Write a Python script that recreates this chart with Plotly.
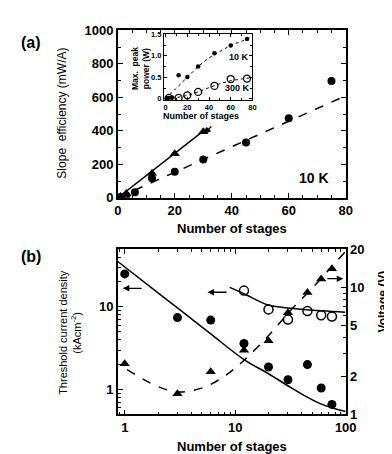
import math
import plotly.graph_objects as go

W, H = 392, 454
def px(x): return x / W
def py(y): return 1 - y / H

FONT = "Liberation Sans, Arial, sans-serif"

# ---------------- Panel (a) data ----------------
stages_circ = [1, 3, 6, 12, 20, 30, 45, 60, 75]
slope_circ = [5, 12, 33, 117, 156, 228, 331, 476, 698]
stages_tri = [1, 3, 12, 20, 30]
slope_tri = [8, 25, 146, 263, 395]
fit_solid_x = [0, 31]
fit_solid_y = [0, 412]
fit_dash_x = [0, 80]
fit_dash_y = [0, 610]

# ---------------- Inset data ----------------
inset_stages_10k = [1, 3, 6, 12, 20, 30, 45, 60, 75]
power_10k = [0.01, 0.02, 0.03, 0.55, 0.51, 0.75, 1.06, 1.24, 1.39]
inset_stages_300k = [3, 12, 20, 30, 45, 60, 75]
power_300k = [0.02, 0.02, 0.08, 0.16, 0.30, 0.46, 0.47]
curve_x = [0, 10, 20, 30, 40, 50, 60, 70, 78]
curve_10k = [0, 0.25, 0.5, 0.75, 0.95, 1.1, 1.24, 1.34, 1.42]
curve_300k = [0, 0.03, 0.08, 0.16, 0.26, 0.35, 0.42, 0.46, 0.49]

# ---------------- Panel (b) data ----------------
stages_b = [1, 3, 6, 12, 20, 30, 45, 60, 75]
jth_10k = [25, 7.4, 6.9, 3.6, 1.87, 1.31, 2.0, 1.04, 0.66]
stages_open = [12, 20, 30, 45, 60, 75]
jth_open = [15.7, 9.3, 7.0, 8.9, 7.9, 7.65]
voltage = [2.5, 1.45, 2.16, 3.19, 3.8, 6.3, 9.1, 11.6, 14.0]

jfit_x = [0.865, 2, 3, 6, 12, 20, 32, 40, 58, 75, 100]
jfit_y = [35.3, 14.7, 9.7, 4.7, 2.3, 1.55, 1.05, 0.88, 0.68, 0.6, 0.54]
ofit_x = [8.9, 12, 20, 31.8, 44.4, 99]
ofit_y = [17.2, 14.4, 10.5, 9.6, 9.2, 8.6]
vfit_x = [1.05, 1.92, 3.07, 5.2, 8, 12.1, 20.6, 31.8, 50.7, 70.8, 99]
vfit_y = [2.25, 1.68, 1.5, 1.63, 2.0, 2.68, 4.28, 6.6, 10, 13.8, 19]

fig = go.Figure()

# Panel (a)
fig.add_trace(go.Scatter(x=fit_solid_x, y=fit_solid_y, mode="lines",
                         line=dict(color="black", width=1.5), xaxis="x", yaxis="y"))
fig.add_trace(go.Scatter(x=fit_dash_x, y=fit_dash_y, mode="lines",
                         line=dict(color="black", width=1.5, dash="dash"), xaxis="x", yaxis="y"))
fig.add_trace(go.Scatter(x=stages_circ, y=slope_circ, mode="markers",
                         marker=dict(symbol="circle", size=8, color="black"), xaxis="x", yaxis="y"))
fig.add_trace(go.Scatter(x=stages_tri, y=slope_tri, mode="markers",
                         marker=dict(symbol="triangle-up", size=9, color="black"), xaxis="x", yaxis="y"))

# Inset
fig.add_trace(go.Scatter(x=curve_x, y=curve_10k, mode="lines", line_shape="spline",
                         line=dict(color="black", width=1, dash="dot"), xaxis="x2", yaxis="y2"))
fig.add_trace(go.Scatter(x=curve_x, y=curve_300k, mode="lines", line_shape="spline",
                         line=dict(color="black", width=1, dash="dot"), xaxis="x2", yaxis="y2"))
fig.add_trace(go.Scatter(x=inset_stages_10k, y=power_10k, mode="markers",
                         marker=dict(symbol="circle", size=4.5, color="black"), xaxis="x2", yaxis="y2"))
fig.add_trace(go.Scatter(x=inset_stages_300k, y=power_300k, mode="markers",
                         marker=dict(symbol="circle-open", size=7, color="black", line=dict(width=1.3)),
                         xaxis="x2", yaxis="y2"))

# Panel (b)
fig.add_trace(go.Scatter(x=jfit_x, y=jfit_y, mode="lines", line_shape="spline",
                         line=dict(color="black", width=1.5), xaxis="x3", yaxis="y3"))
fig.add_trace(go.Scatter(x=ofit_x, y=ofit_y, mode="lines", line_shape="spline",
                         line=dict(color="black", width=1.5), xaxis="x3", yaxis="y3"))
fig.add_trace(go.Scatter(x=stages_b, y=jth_10k, mode="markers",
                         marker=dict(symbol="circle", size=9, color="black"), xaxis="x3", yaxis="y3"))
fig.add_trace(go.Scatter(x=stages_open, y=jth_open, mode="markers",
                         marker=dict(symbol="circle-open", size=9, color="black", line=dict(width=1.5)),
                         xaxis="x3", yaxis="y3"))
fig.add_trace(go.Scatter(x=vfit_x, y=vfit_y, mode="lines", line_shape="spline",
                         line=dict(color="black", width=1.5, dash="dash"), xaxis="x3", yaxis="y4"))
fig.add_trace(go.Scatter(x=stages_b, y=voltage, mode="markers",
                         marker=dict(symbol="triangle-up", size=9, color="black"), xaxis="x3", yaxis="y4"))

axis_common = dict(showline=True, linecolor="black", linewidth=1.5, ticks="inside",
                   tickcolor="black", showgrid=False, zeroline=False,
                   tickfont=dict(family=FONT, size=13, color="black", weight="bold"))

fig.update_layout(
    width=W, height=H, margin=dict(l=0, r=0, t=0, b=0),
    paper_bgcolor="white", plot_bgcolor="white", showlegend=False,
    xaxis=dict(axis_common, domain=[px(110), px(347)], range=[0, 80], anchor="y",
               dtick=20, ticklen=5, mirror="ticks",
               minor=dict(ticks="inside", dtick=5, ticklen=3, tickcolor="black")),
    yaxis=dict(axis_common, domain=[py(189), py(16)], range=[0, 1000], anchor="x",
               dtick=200, ticklen=5, mirror="ticks",
               minor=dict(ticks="inside", dtick=100, ticklen=3, tickcolor="black")),
    xaxis2=dict(axis_common, domain=[px(158), px(250)], range=[-1.5, 80], anchor="y2",
                dtick=20, ticklen=3, linewidth=1, mirror="ticks",
                tickfont=dict(family=FONT, size=7.5, color="black", weight="bold"),
                minor=dict(ticks="inside", dtick=10, ticklen=2, tickcolor="black")),
    yaxis2=dict(axis_common, domain=[py(88), py(20)], range=[-0.03, 1.5], anchor="x2",
                tickvals=[0, 0.5, 1.0, 1.5], ticktext=["0", "0.5", "1.0", "1.5"],
                ticklen=3, linewidth=1, mirror="ticks",
                tickfont=dict(family=FONT, size=7.5, color="black", weight="bold"),
                minor=dict(ticks="inside", dtick=0.25, ticklen=2, tickcolor="black")),
    xaxis3=dict(axis_common, type="log", domain=[px(110), px(347)],
                range=[math.log10(0.865), 2], anchor="y3",
                tickvals=[1, 10, 100], ticktext=["1", "10", "100"], ticklen=5, mirror="ticks",
                minor=dict(ticks="inside", dtick="D1", ticklen=3, tickcolor="black")),
    yaxis3=dict(axis_common, type="log", domain=[py(413), py(242)],
                range=[math.log10(0.5), math.log10(50)], anchor="x3",
                tickvals=[1, 10], ticktext=["1", "10"], ticklen=5,
                minor=dict(ticks="inside", dtick="D1", ticklen=3, tickcolor="black")),
    yaxis4=dict(axis_common, type="log", overlaying="y3", side="right", anchor="x3",
                range=[0, math.log10(20)],
                tickvals=[1, 2, 5, 10, 20], ticktext=["1", "2", "5", "10", "20"], ticklen=5,
                minor=dict(ticks="inside", dtick="D1", ticklen=3, tickcolor="black")),
)

def txt(x, y, s, size, bold=True, angle=0, xanchor="center"):
    return dict(x=px(x), y=py(y), xref="paper", yref="paper", text=s, showarrow=False,
                textangle=angle, xanchor=xanchor, yanchor="middle",
                font=dict(family=FONT, size=size, color="black", weight="bold" if bold else "normal"))

ann = [
    txt(20, 28, "(a)", 16),
    txt(20, 250, "(b)", 16),
    txt(229, 221, "Number of stages", 13),
    txt(229, 446, "Number of stages", 13),
    txt(52, 102, "Slope  efficiency (mW/A)", 12, bold=False, angle=-90),
    txt(60, 328, "Threshold current density<br>(kAcm<sup>-2</sup>)", 11, bold=False, angle=-90),
    txt(386, 296, "Voltage (V)", 12, angle=-90),
    txt(314, 169, "10 K", 14),
    txt(196, 104, "Number of stages", 9),
    txt(133, 55, "Max.  peak<br>power (W)", 8.5, angle=-90),
    txt(236, 43, "10 K", 9),
    txt(234, 76, "300 K", 9),
]

arrow_style = dict(showarrow=True, arrowhead=2, arrowsize=1, arrowwidth=1.3,
                   arrowcolor="black", text="")
ann.append(dict(arrow_style, x=30.4, y=383, ax=33.3, ay=435,
                xref="x", yref="y", axref="x", ayref="y"))
ann.append(dict(arrow_style, x=math.log10(0.96), y=math.log10(16.7),
                ax=math.log10(1.47), ay=math.log10(16.7),
                xref="x3", yref="y3", axref="x3", ayref="y3"))
ann.append(dict(arrow_style, x=math.log10(5.6), y=math.log10(15),
                ax=math.log10(8.6), ay=math.log10(15),
                xref="x3", yref="y3", axref="x3", ayref="y3"))
ann.append(dict(arrow_style, x=math.log10(95), y=math.log10(21.9),
                ax=math.log10(66), ay=math.log10(21.9),
                xref="x3", yref="y3", axref="x3", ayref="y3"))

fig.update_layout(annotations=ann)
fig.write_html("out.html")
